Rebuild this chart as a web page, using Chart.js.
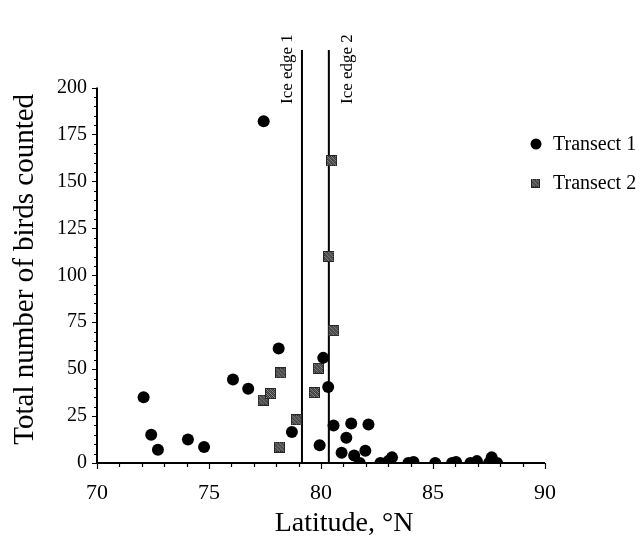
<!DOCTYPE html>
<html>
<head>
<meta charset="utf-8">
<script src="https://cdn.jsdelivr.net/npm/chart.js@4/dist/chart.umd.min.js"></script>
<style>
  html, body { margin: 0; padding: 0; background: #ffffff; }
  #wrap { width: 644px; height: 538px; position: relative; }
</style>
</head>
<body>
<div id="wrap"><canvas id="c" width="644" height="538"></canvas></div>
<script>
// Transect 1: latitude (°N) and total birds counted
const transect1Lat = [72.08, 72.42, 72.72, 74.06, 74.78, 76.07, 76.75, 77.44, 78.11, 78.70,
                      79.94, 80.10, 80.32, 80.56, 80.92, 81.13, 81.35, 81.48, 81.73, 81.98,
                      82.12, 82.65, 83.00, 83.17, 83.90, 84.13, 85.10, 85.85, 86.03, 86.67,
                      86.96, 87.50, 87.62, 87.86];
const transect1Count = [35, 15, 7, 12.5, 8.5, 44.5, 39.5, 182, 61, 16.5,
                        9.5, 56, 40.5, 20, 5.5, 13.5, 21, 4, 0, 6.5,
                        20.5, 0, 1, 3, 0, 0.5, 0, 0, 0.5, 0,
                        1, 0, 3, 0];

// Transect 2
const transect2Lat = [77.42, 77.75, 78.15, 78.20, 78.90, 79.70, 79.88, 80.35, 80.47, 80.57];
const transect2Count = [33.5, 37, 8.5, 48, 23, 37.5, 50.5, 110, 161, 70.5];

// Ice edge positions
const iceEdgeLat = [79.15, 80.35];
const iceEdgeLabels = ["Ice edge 1", "Ice edge 2"];

const seriesNames = ["Transect 1", "Transect 2"];
const xTicks = [70, 75, 80, 85, 90];
const yTicks = [0, 25, 50, 75, 100, 125, 150, 175, 200];
const xTitle = "Latitude, °N";
const yTitle = "Total number of birds counted";

const SERIF = "'Liberation Serif', 'Times New Roman', serif";

// Dithered dark grey square marker
function makeSquareMarker(size) {
  const cv = document.createElement('canvas');
  cv.width = size; cv.height = size;
  const g = cv.getContext('2d');
  g.fillStyle = '#262626';
  g.fillRect(0, 0, size, size);
  for (let y = 1; y < size - 1; y++) {
    for (let x = 1; x < size - 1; x++) {
      if ((x + y) % 2 === 0) {
        g.fillStyle = ((x * 3 + y * 5) % 4 === 0) ? '#a8a8a8' : '#6e6e6e';
        g.fillRect(x, y, 1, 1);
      }
    }
  }
  return cv;
}
const squareMarker = makeSquareMarker(11);
const legendSquare = makeSquareMarker(9);

const toPoints = (xs, ys) => xs.map((x, i) => ({ x: x, y: ys[i] }));

// Axes, ticks, ice edge lines
const framePlugin = {
  id: 'frame',
  beforeDatasetsDraw(chart) {
    const ctx = chart.ctx;
    const xs = chart.scales.x, ys = chart.scales.y;
    const x0 = xs.getPixelForValue(70), x1 = xs.getPixelForValue(90);
    const y0 = ys.getPixelForValue(0), y1 = ys.getPixelForValue(200);
    ctx.save();
    ctx.strokeStyle = '#000';
    ctx.lineWidth = 2;
    ctx.beginPath();
    ctx.moveTo(x0, y0); ctx.lineTo(x1, y0);
    ctx.moveTo(x0, y0); ctx.lineTo(x0, y1);
    ctx.stroke();
    ctx.lineWidth = 1.2;
    ctx.beginPath();
    for (let v = 70; v <= 90; v++) {
      const px = Math.round(xs.getPixelForValue(v)) + 0.5;
      const len = (v % 5 === 0) ? 6 : 4;
      ctx.moveTo(px, y0); ctx.lineTo(px, y0 + len);
    }
    for (let v = 0; v <= 200; v += 5) {
      const py = Math.round(ys.getPixelForValue(v)) + 0.5;
      const len = (v % 25 === 0) ? 5 : 3;
      ctx.moveTo(x0, py); ctx.lineTo(x0 - len, py);
    }
    ctx.stroke();
    // ice edges
    ctx.lineWidth = 2;
    ctx.beginPath();
    iceEdgeLat.forEach(lat => {
      const px = xs.getPixelForValue(lat);
      ctx.moveTo(px, ys.getPixelForValue(0));
      ctx.lineTo(px, ys.getPixelForValue(ys.max));
    });
    ctx.stroke();
    ctx.restore();
  },
  afterDraw(chart) {
    const ctx = chart.ctx;
    const a = chart.chartArea;
    const xs = chart.scales.x, ys = chart.scales.y;
    ctx.save();
    ctx.fillStyle = '#000';
    // ice edge labels
    ctx.font = '17px ' + SERIF;
    ctx.textBaseline = 'alphabetic';
    ctx.textAlign = 'left';
    iceEdgeLabels.forEach((t, i) => {
      const px = xs.getPixelForValue(iceEdgeLat[i]);
      const bx = i === 0 ? px - 10 : px + 23;
      ctx.save();
      ctx.translate(bx, ys.getPixelForValue(0) - 359);
      ctx.rotate(-Math.PI / 2);
      ctx.fillText(t, 0, 0);
      ctx.restore();
    });
    // axis titles
    ctx.font = '28px ' + SERIF;
    ctx.textAlign = 'center';
    ctx.fillText(xTitle, (a.left + a.right) / 2 + 23, a.bottom + 68);
    ctx.font = '29px ' + SERIF;
    ctx.save();
    ctx.translate(33, (ys.getPixelForValue(0) + ys.getPixelForValue(200)) / 2 - 6);
    ctx.rotate(-Math.PI / 2);
    ctx.fillText(yTitle, 0, 0);
    ctx.restore();
    // legend
    ctx.font = '20px ' + SERIF;
    ctx.textAlign = 'left';
    ctx.textBaseline = 'middle';
    const lx = a.right - 9, ly = 144;
    ctx.beginPath();
    ctx.arc(lx, ly, 5.5, 0, Math.PI * 2);
    ctx.fill();
    ctx.fillText(seriesNames[0], lx + 17, ly + 1);
    ctx.drawImage(legendSquare, lx - 5, ly + 39 - 4.5);
    ctx.fillText(seriesNames[1], lx + 17, ly + 40);
    ctx.restore();
  }
};

new Chart(document.getElementById('c'), {
  type: 'scatter',
  data: {
    datasets: [
      {
        label: seriesNames[0],
        data: toPoints(transect1Lat, transect1Count),
        pointStyle: 'circle',
        pointRadius: 6,
        pointHoverRadius: 6,
        backgroundColor: '#000',
        borderColor: '#000',
        borderWidth: 0
      },
      {
        label: seriesNames[1],
        data: toPoints(transect2Lat, transect2Count),
        pointStyle: squareMarker,
        pointRadius: 6,
        backgroundColor: '#333',
        borderColor: '#000',
        borderWidth: 0
      }
    ]
  },
  options: {
    responsive: false,
    animation: false,
    events: [],
    layout: { padding: { top: 50, right: 99, left: 0, bottom: 0 } },
    plugins: { legend: { display: false }, tooltip: { enabled: false } },
    scales: {
      x: {
        type: 'linear',
        min: 70, max: 90,
        grid: { display: false, drawTicks: false },
        border: { display: false },
        afterBuildTicks: s => { s.ticks = xTicks.map(v => ({ value: v })); },
        afterFit: s => { s.height = 75; },
        ticks: {
          padding: 17,
          color: '#000',
          font: { family: SERIF, size: 22 },
          maxRotation: 0
        }
      },
      y: {
        type: 'linear',
        min: 0, max: 220,
        grid: { display: false, drawTicks: false },
        border: { display: false },
        afterBuildTicks: s => { s.ticks = yTicks.map(v => ({ value: v })); },
        afterFit: s => { s.width = 97; },
        ticks: {
          padding: 10,
          color: '#000',
          font: { family: SERIF, size: 20 }
        }
      }
    }
  },
  plugins: [framePlugin]
});
</script>
</body>
</html>
